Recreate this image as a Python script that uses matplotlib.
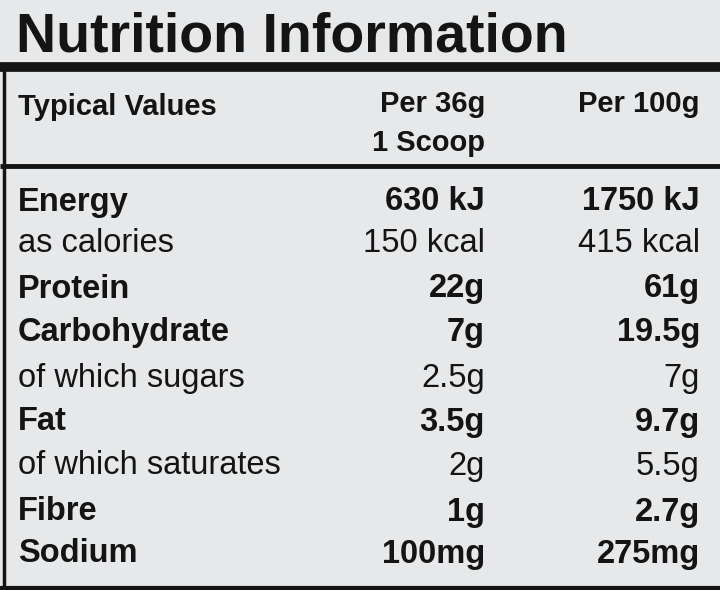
import matplotlib
matplotlib.use("Agg")
import matplotlib.pyplot as plt

title = "Nutrition Information"
header = ["Typical Values", "Per 36g", "Per 100g"]
subheader = "1 Scoop"
nutrients = ["Energy", "as calories", "Protein", "Carbohydrate", "of which sugars",
             "Fat", "of which saturates", "Fibre", "Sodium"]
per_serving = ["630 kJ", "150 kcal", "22g", "7g", "2.5g", "3.5g", "2g", "1g", "100mg"]
per_100g = ["1750 kJ", "415 kcal", "61g", "19.5g", "7g", "9.7g", "5.5g", "2.7g", "275mg"]
is_bold = [True, False, True, True, False, True, False, True, True]

plt.rcParams['font.family'] = ['Liberation Sans', 'DejaVu Sans']

fig = plt.figure(figsize=(7.2, 5.9), dpi=100)
fig.patch.set_facecolor("#e6e8e9")
ax = fig.add_axes([0, 0, 1, 1])
ax.set_xlim(0, 720)
ax.set_ylim(590, 0)
ax.axis("off")

ink = "#141414"
ax.text(16, 37, title, fontsize=40, fontweight="bold", va="center", ha="left", color=ink)
ax.plot([0, 720], [67, 67], color=ink, lw=7, solid_capstyle="butt")
ax.plot([4, 4], [67, 590], color=ink, lw=2.5)
ax.plot([0, 720], [588, 588], color=ink, lw=3)

col_x = [18, 485, 700]
fs_head = 21
ax.text(col_x[0], 107, header[0], fontsize=fs_head, fontweight="bold", va="center", ha="left", color=ink)
ax.text(col_x[1], 104, header[1], fontsize=fs_head, fontweight="bold", va="center", ha="right", color=ink)
ax.text(col_x[2], 104, header[2], fontsize=fs_head, fontweight="bold", va="center", ha="right", color=ink)
ax.text(col_x[1], 143, subheader, fontsize=fs_head, fontweight="bold", va="center", ha="right", color=ink)
ax.plot([0, 720], [166, 166], color=ink, lw=3.5, solid_capstyle="butt")

row_y = [202, 243, 289, 333, 378, 422, 466, 512, 554]
for name, a, b, bold, y in zip(nutrients, per_serving, per_100g, is_bold, row_y):
    w = "bold" if bold else "normal"
    ax.text(col_x[0], y, name, fontsize=23.5, fontweight=w, va="center", ha="left", color=ink)
    ax.text(col_x[1], y, a, fontsize=23.5, fontweight=w, va="center", ha="right", color=ink)
    ax.text(col_x[2], y, b, fontsize=23.5, fontweight=w, va="center", ha="right", color=ink)

fig.savefig("out.png", dpi=100, facecolor=fig.get_facecolor())
